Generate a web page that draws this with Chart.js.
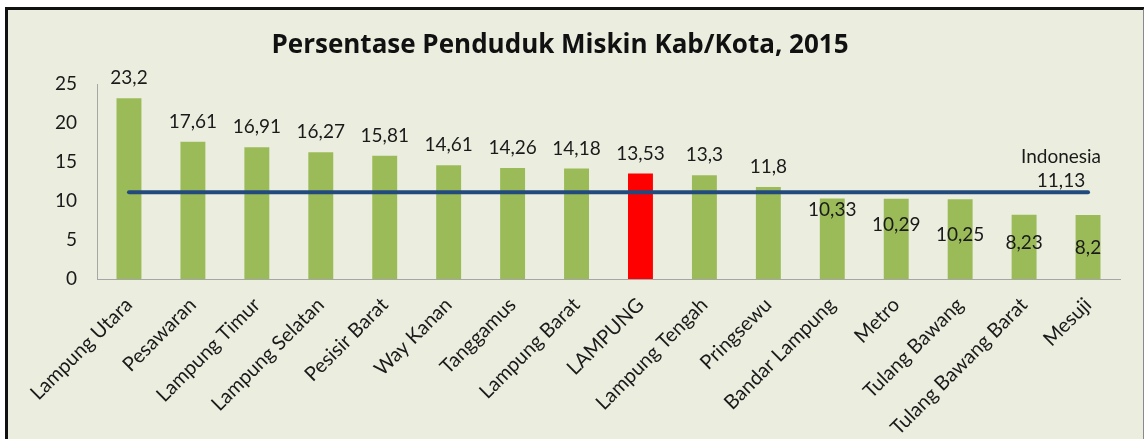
<!DOCTYPE html>
<html>
<head>
<meta charset="utf-8">
<script src="https://cdn.jsdelivr.net/npm/chart.js@4/dist/chart.umd.min.js"></script>
<style>
  html, body { margin: 0; padding: 0; background: #ffffff; }
  body { width: 1144px; height: 439px; position: relative; overflow: hidden; }
  #frame {
    position: absolute; left: 5px; top: 7px; width: 1135px; height: 445px;
    background: #EBEEDF;
    border-top: 3px solid #111; border-left: 3px solid #111; border-right: 2px solid #8a8a8a;
  }
  #c { position: absolute; left: 0; top: 0; }
</style>
</head>
<body>
<div id="frame"></div>
<canvas id="c" width="1144" height="439"></canvas>
<script>
// ---- data ----
const categories = ["Lampung Utara","Pesawaran","Lampung Timur","Lampung Selatan","Pesisir Barat","Way Kanan","Tanggamus","Lampung Barat","LAMPUNG","Lampung Tengah","Pringsewu","Bandar Lampung","Metro","Tulang Bawang","Tulang Bawang Barat","Mesuji"];
const povertyPct = [23.2, 17.61, 16.91, 16.27, 15.81, 14.61, 14.26, 14.18, 13.53, 13.3, 11.8, 10.33, 10.29, 10.25, 8.23, 8.2];
const indonesiaPct = 11.13;
const indonesiaLabel = "Indonesia";
const highlightCategory = "LAMPUNG";
const yTicks = [0, 5, 10, 15, 20, 25];
const chartTitle = "Persentase Penduduk Miskin Kab/Kota, 2015";

// ---- styles ----
const FONT = "Lato, 'Open Sans', sans-serif";
const green = "#9BBB59", red = "#FF0000", lineBlue = "#234A7C";
const labelShift = [0,0,0,0,0,0,0,0,0,0,0,31,46,56,48,53]; // px shift of value labels (manual placement in original)

const barColors = categories.map(c => c === highlightCategory ? red : green);
const fmt = v => String(v).replace('.', ',');

const labelPlugin = {
  id: 'valueLabels',
  afterDatasetsDraw(chart) {
    const ctx = chart.ctx;
    ctx.save();
    ctx.font = "19px " + FONT;
    ctx.fillStyle = "#1a1a1a";
    ctx.textAlign = "center";
    ctx.textBaseline = "middle";
    const barMeta = chart.getDatasetMeta(0);
    barMeta.data.forEach((el, i) => {
      ctx.fillText(fmt(povertyPct[i]), el.x, el.y - 20 + labelShift[i]);
    });
    const lineMeta = chart.getDatasetMeta(1);
    const last = lineMeta.data[lineMeta.data.length - 1];
    ctx.fillText(indonesiaLabel, last.x - 27, last.y - 35);
    ctx.fillText(fmt(indonesiaPct), last.x - 27, last.y - 11);
    ctx.restore();
  }
};

new Chart(document.getElementById('c'), {
  data: {
    labels: categories,
    datasets: [
      {
        type: 'bar', data: povertyPct, backgroundColor: barColors,
        categoryPercentage: 1, barPercentage: 0.39, order: 2
      },
      {
        type: 'line', data: categories.map(() => indonesiaPct),
        borderColor: lineBlue, borderWidth: 4, pointRadius: 0,
        borderCapStyle: 'round', fill: false, order: 1
      }
    ]
  },
  options: {
    responsive: false, animation: false,
    layout: { padding: { left: 0, right: 24, top: 0, bottom: 0 } },
    plugins: {
      legend: { display: false }, tooltip: { enabled: false },
      title: {
        display: true, text: chartTitle, color: "#111",
        font: { family: "'Open Sans', Lato, sans-serif", size: 26, weight: 'bold', lineHeight: 1.2 },
        padding: { top: 30, bottom: 23 }
      }
    },
    scales: {
      x: {
        grid: { display: false, drawTicks: false },
        border: { display: true, color: "#A6A6A6", width: 1 },
        ticks: {
          autoSkip: false, minRotation: 45, maxRotation: 45, padding: 14,
          color: "#1a1a1a", font: { family: FONT, size: 20 }
        },
        afterFit(s) { s.height = 160; }
      },
      y: {
        min: 0, max: 25,
        grid: { display: false, drawTicks: false },
        border: { display: true, color: "#A6A6A6", width: 1 },
        afterBuildTicks(s) { s.ticks = yTicks.map(v => ({ value: v })); },
        ticks: { padding: 20, color: "#1a1a1a", font: { family: FONT, size: 19 } },
        afterFit(s) { s.width = 97; }
      }
    }
  },
  plugins: [labelPlugin]
});
</script>
</body>
</html>
